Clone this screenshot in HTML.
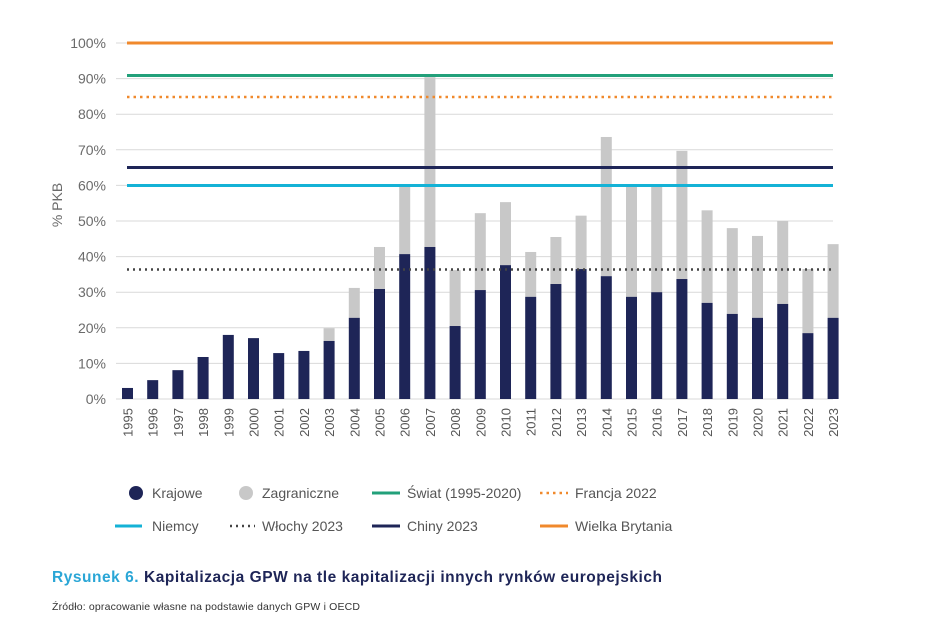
<!DOCTYPE html>
<html><head><meta charset="utf-8"><style>
body{margin:0;background:#fff;width:948px;height:635px;overflow:hidden;font-family:"Liberation Sans",sans-serif}
</style></head><body>
<svg width="948" height="635" xmlns="http://www.w3.org/2000/svg" font-family="Liberation Sans, sans-serif">
<g id="grid" stroke="#d9d9d9" stroke-width="1"></g>
<g id="ylab" fill="#6b6b6b" font-size="14" text-anchor="end"></g>
<text transform="translate(62,205) rotate(-90)" fill="#6b6b6b" font-size="14" text-anchor="middle">% PKB</text>
<g id="bars"></g>
<g id="xlab" fill="#555" font-size="13"></g>
<line x1="127" x2="833" y1="43" y2="43" stroke="#f0892c" stroke-width="3"/>
<line x1="127" x2="833" y1="75.5" y2="75.5" stroke="#22a07a" stroke-width="3"/>
<line x1="127" x2="833" y1="97" y2="97" stroke="#f0892c" stroke-width="2.5" stroke-dasharray="2.5,4"/>
<line x1="127" x2="833" y1="167.5" y2="167.5" stroke="#1e2557" stroke-width="3"/>
<line x1="127" x2="833" y1="185.5" y2="185.5" stroke="#14b2d6" stroke-width="3"/>
<line x1="127" x2="833" y1="269.5" y2="269.5" stroke="#444" stroke-width="2.5" stroke-dasharray="2,4"/>
<g font-size="14" fill="#555">
<circle cx="136" cy="493" r="7" fill="#1e2557"/><text x="152" y="498">Krajowe</text>
<circle cx="246" cy="493" r="7" fill="#c8c8c8"/><text x="262" y="498">Zagraniczne</text>
<line x1="372" x2="400" y1="493" y2="493" stroke="#22a07a" stroke-width="3"/><text x="407" y="498">Świat (1995-2020)</text>
<line x1="540" x2="568" y1="493" y2="493" stroke="#f0892c" stroke-width="2.5" stroke-dasharray="2.5,4"/><text x="575" y="498">Francja 2022</text>
<line x1="115" x2="142" y1="526" y2="526" stroke="#14b2d6" stroke-width="3"/><text x="152" y="531">Niemcy</text>
<line x1="230" x2="255" y1="526" y2="526" stroke="#444" stroke-width="2.5" stroke-dasharray="2,4"/><text x="262" y="531">Włochy 2023</text>
<line x1="372" x2="400" y1="526" y2="526" stroke="#1e2557" stroke-width="3"/><text x="407" y="531">Chiny 2023</text>
<line x1="540" x2="568" y1="526" y2="526" stroke="#f0892c" stroke-width="3"/><text x="575" y="531">Wielka Brytania</text>
</g>
<text x="52" y="582" font-size="15.5" font-weight="bold" textLength="610" lengthAdjust="spacing"><tspan fill="#2aa6d6">Rysunek 6. </tspan><tspan fill="#1e2557">Kapitalizacja GPW na tle kapitalizacji innych rynków europejskich</tspan></text>
<text x="52" y="610" font-size="10.5" fill="#333" textLength="308" lengthAdjust="spacing">Źródło: opracowanie własne na podstawie danych GPW i OECD</text>
</svg>
<script>
const ns="http://www.w3.org/2000/svg";
function el(p,t,a,txt){const e=document.createElementNS(ns,t);for(const k in a)e.setAttribute(k,a[k]);if(txt)e.textContent=txt;document.getElementById(p).appendChild(e);}
const y=v=>399-3.56*v;
for(let i=0;i<=10;i++){el("grid","line",{x1:116,x2:833,y1:y(i*10),y2:y(i*10)});el("ylab","text",{x:106,y:y(i*10)+5},i*10+"%");}
const k=[3.1,5.3,8.1,11.8,18,17.1,12.9,13.5,16.3,22.8,30.9,40.7,42.7,20.5,30.6,37.6,28.7,32.3,36.5,34.5,28.7,30,33.7,27,23.9,22.8,26.7,18.5,22.8];
const t=[0,0,0,0,0,0,0,0,19.9,31.2,42.7,59.6,90.4,36.2,52.2,55.3,41.3,45.5,51.5,73.6,59.8,59.8,69.7,53,48,45.8,50,36.5,43.5];
for(let i=0;i<29;i++){const cx=127.5+i*25.2;
if(t[i]>k[i])el("bars","rect",{x:cx-5.5,y:y(t[i]),width:11,height:y(k[i])-y(t[i]),fill:"#c8c8c8"});
el("bars","rect",{x:cx-5.5,y:y(k[i]),width:11,height:399-y(k[i]),fill:"#1e2557"});
el("xlab","text",{transform:`translate(${cx+5},${408}) rotate(-90)`,"text-anchor":"end"},String(1995+i));}
</script>
</body></html>
